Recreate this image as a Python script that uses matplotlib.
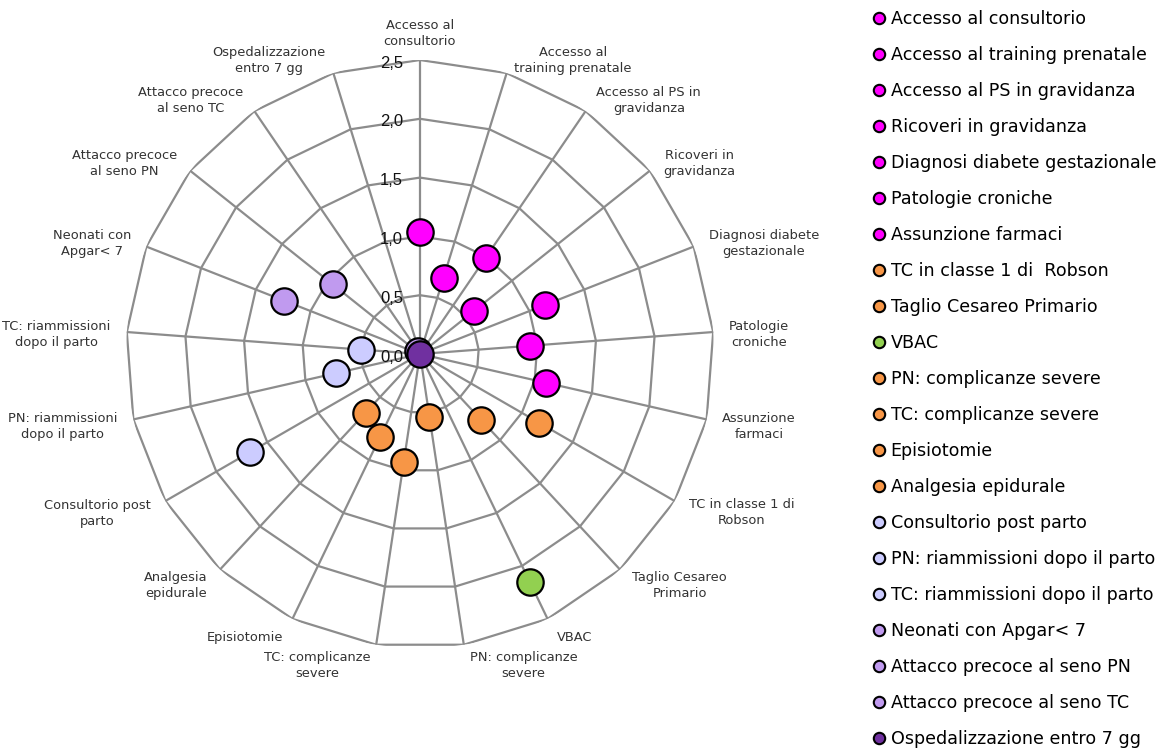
import numpy as np
import matplotlib
matplotlib.use("Agg")
import matplotlib.pyplot as plt
from matplotlib.lines import Line2D

# Indicator names (legend) and their axis labels on the radar
indicators = [
    "Accesso al consultorio",
    "Accesso al training prenatale",
    "Accesso al PS in gravidanza",
    "Ricoveri in gravidanza",
    "Diagnosi diabete gestazionale",
    "Patologie croniche",
    "Assunzione farmaci",
    "TC in classe 1 di  Robson",
    "Taglio Cesareo Primario",
    "VBAC",
    "PN: complicanze severe",
    "TC: complicanze severe",
    "Episiotomie",
    "Analgesia epidurale",
    "Consultorio post parto",
    "PN: riammissioni dopo il parto",
    "TC: riammissioni dopo il parto",
    "Neonati con Apgar< 7",
    "Attacco precoce al seno PN",
    "Attacco precoce al seno TC",
    "Ospedalizzazione entro 7 gg",
]

axis_labels = [
    "Accesso al\nconsultorio",
    "Accesso al\ntraining prenatale",
    "Accesso al PS in\ngravidanza",
    "Ricoveri in\ngravidanza",
    "Diagnosi diabete\ngestazionale",
    "Patologie\ncroniche",
    "Assunzione\nfarmaci",
    "TC in classe 1 di\nRobson",
    "Taglio Cesareo\nPrimario",
    "VBAC",
    "PN: complicanze\nsevere",
    "TC: complicanze\nsevere",
    "Episiotomie",
    "Analgesia\nepidurale",
    "Consultorio post\nparto",
    "PN: riammissioni\ndopo il parto",
    "TC: riammissioni\ndopo il parto",
    "Neonati con\nApgar< 7",
    "Attacco precoce\nal seno PN",
    "Attacco precoce\nal seno TC",
    "Ospedalizzazione\nentro 7 gg",
]

values = [1.04, 0.68, 0.99, 0.59, 1.14, 0.94, 1.10,
          1.17, 0.76, 2.15, 0.54, 0.93, 0.78, 0.68,
          1.67, 0.73, 0.50, 1.24, 0.95, 0.03, 0.00]

colors = (["#FF00FF"] * 7 + ["#F79646"] * 2 + ["#92D050"] + ["#F79646"] * 4
          + ["#CCCCFF"] * 3 + ["#C09AEF"] * 3 + ["#7030A0"])

rticks = [0.0, 0.5, 1.0, 1.5, 2.0, 2.5]
rtick_labels = ["0,0", "0,5", "1,0", "1,5", "2,0", "2,5"]

W, H = 1165, 751
fig = plt.figure(figsize=(W / 100, H / 100), dpi=100)
ax = fig.add_axes([126 / W, 1 - 648 / H, 588 / W, 588 / H], projection="polar")
ax.set_theta_zero_location("N")
ax.set_theta_direction(-1)
ax.set_ylim(0, 2.5)
ax.grid(False)
ax.spines["polar"].set_visible(False)
ax.set_xticks([])
ax.set_yticks([])
ax.patch.set_visible(False)

n = len(indicators)
theta = np.arange(n) * 2 * np.pi / n
theta_closed = np.append(theta, theta[0])
grid_col = "#8C8C8C"

# polygonal rings
for r in rticks[1:]:
    ax.plot(theta_closed, [r] * (n + 1), color=grid_col, lw=1.6, zorder=1)
# spokes
for t in theta:
    ax.plot([t, t], [0, 2.5], color=grid_col, lw=1.6, zorder=1)

# radial tick labels along the top spoke
for r, lab in zip(rticks, rtick_labels):
    ax.annotate(lab, xy=(0, r), xytext=(-17, -3), textcoords="offset pixels",
                ha="right", va="center", fontsize=12, color="#111111",
                family="Liberation Sans", zorder=2)

# category labels around the outer ring
for t, lab in zip(theta, axis_labels):
    s, c = np.sin(t), np.cos(t)
    if abs(s) < 0.05:
        ha, va = "center", ("bottom" if c > 0 else "top")
        dx, dy = 0, 12 * np.sign(c)
    else:
        ha = "left" if s > 0 else "right"
        va = "center"
        dx = np.sign(s) * (4 + 12 * abs(s))
        dy = c * 17 - 3.5
    ax.annotate(lab, xy=(t, 2.5), xytext=(dx, dy), textcoords="offset pixels",
                ha=ha, va=va, multialignment="center", linespacing=1.3,
                fontsize=9.4, color="#333333", family="DejaVu Sans")

# one marker per indicator
for t, v, col in zip(theta, values, colors):
    ax.plot([t], [v], marker="o", ms=19, mfc=col, mec="black", mew=1.6,
            ls="none", zorder=3, clip_on=False)

handles = [Line2D([], [], marker="o", ls="none", ms=8.2, mfc=col, mec="black", mew=1.5)
           for col in colors]
fig.legend(handles, indicators, loc="upper left", bbox_to_anchor=(874 / W, 1 - 10 / H),
           frameon=False, handlelength=0.6, handletextpad=0.35,
           labelspacing=1.03, borderpad=0, borderaxespad=0,
           prop={"family": "DejaVu Sans", "size": 12.6})

fig.savefig("out.png", dpi=100, facecolor="white")
